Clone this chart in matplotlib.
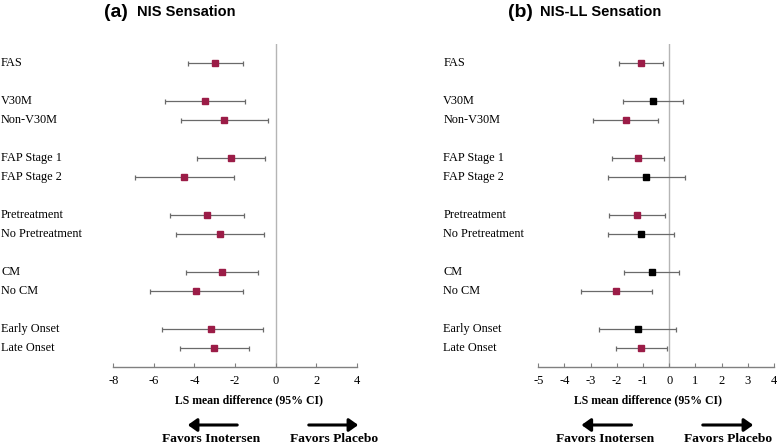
import matplotlib
matplotlib.use("Agg")
import matplotlib.pyplot as plt
import matplotlib.transforms as mtransforms

# ---- data ----
labels = ["FAS", "V30M", "Non-V30M", "FAP Stage 1", "FAP Stage 2",
          "Pretreatment", "No Pretreatment", "CM", "No CM",
          "Early Onset", "Late Onset"]
rows = [1, 3, 4, 6, 7, 9, 10, 12, 13, 15, 16]

nis_mean = [-2.98, -3.50, -2.52, -2.22, -4.52, -3.40, -2.75, -2.66, -3.93, -3.16, -3.04]
nis_low = [-4.32, -5.44, -4.65, -3.88, -6.95, -5.21, -4.90, -4.44, -6.21, -5.62, -4.72]
nis_high = [-1.61, -1.53, -0.39, -0.54, -2.07, -1.56, -0.58, -0.87, -1.61, -0.64, -1.33]

ll_mean = [-1.08, -0.62, -1.67, -1.20, -0.87, -1.22, -1.07, -0.67, -2.02, -1.21, -1.06]
ll_low = [-1.91, -1.76, -2.92, -2.20, -2.33, -2.29, -2.33, -1.71, -3.36, -2.67, -2.05]
ll_high = [-0.25, 0.51, -0.42, -0.19, 0.61, -0.15, 0.18, 0.36, -0.67, 0.25, -0.08]

ticks_a = [-8, -6, -4, -2, 0, 2, 4]
ticks_b = [-5, -4, -3, -2, -1, 0, 1, 2, 3, 4]

MAROON = "#9B1C47"
W, H = 777, 445

fig = plt.figure(figsize=(7.77, 4.45), dpi=100)


def fx(px):
    return px / W


def fy(py):
    return 1 - py / H


def panel(left_px, right_px, mean, low, high, ticks, label_px, letter, title,
          letter_px, title_px, xlabel_px, arrows, fav_px):
    ax = fig.add_axes([fx(left_px), fy(367.3), (right_px - left_px) / W, (367.3 - 44.3) / H])
    ax.set_xlim(ticks[0], ticks[-1])
    ax.set_ylim(17, 0)
    ax.axvline(0, color="#b5b5b5", lw=1.0, zorder=1)
    for r, m, lo, hi in zip(rows, mean, low, high):
        sig = hi < 0
        ax.errorbar([m], [r], xerr=[[m - lo], [hi - m]], fmt="s",
                    color=MAROON if sig else "black",
                    ecolor="#6a6a6a", elinewidth=0.9, capsize=1.8, capthick=0.9,
                    markersize=4.2, zorder=3)
    for s in ["left", "top", "right"]:
        ax.spines[s].set_visible(False)
    ax.spines["bottom"].set_color("#808080")
    ax.spines["bottom"].set_linewidth(1.0)
    ax.set_yticks([])
    ax.set_xticks(ticks)
    ax.set_xticklabels([str(t) for t in ticks], family="Liberation Serif", fontsize=9)
    ax.tick_params(axis="x", direction="in", length=3, color="#808080", pad=5.5)
    trans = mtransforms.blended_transform_factory(fig.transFigure, ax.transData)
    for lab, r in zip(labels, rows):
        ax.text(fx(label_px), r, lab, transform=trans, ha="left", va="center",
                family="Liberation Serif", fontsize=8.8, clip_on=False)
    fig.text(fx(letter_px), fy(12.5), letter, family="Liberation Sans", fontweight="bold",
             fontsize=14, ha="left", va="center")
    fig.text(fx(title_px), fy(12.5), title, family="Liberation Sans", fontweight="bold",
             fontsize=10.5, ha="left", va="center")
    fig.text(fx(xlabel_px), fy(400), "LS mean difference (95% CI)", family="Liberation Serif",
             fontweight="bold", fontsize=8.5, ha="center", va="center")
    for (x0, x1) in arrows:
        fig.add_artist(matplotlib.patches.FancyArrowPatch(
            (fx(x0), fy(425)), (fx(x1), fy(425)), transform=fig.transFigure,
            arrowstyle="-|>,head_length=0.45,head_width=0.32", mutation_scale=12,
            lw=2.2, color="black"))
    fig.text(fx(fav_px[0]), fy(438.5), "Favors Inotersen", family="Liberation Serif",
             fontweight="bold", fontsize=9.7, ha="center", va="center")
    fig.text(fx(fav_px[1]), fy(438.5), "Favors Placebo", family="Liberation Serif",
             fontweight="bold", fontsize=9.7, ha="center", va="center")
    return ax


panel(113.3, 356.7, nis_mean, nis_low, nis_high, ticks_a, 1, "(a)", "NIS Sensation",
      104, 137, 248.8, [(240, 185), (306, 361)], (211.3, 333.7))
panel(538.3, 774.0, ll_mean, ll_low, ll_high, ticks_b, 443.3, "(b)", "NIS-LL Sensation",
      508, 540, 648.3, [(634.3, 578.7), (700, 756)], (605.5, 727.8))

fig.savefig("out.png", dpi=100)
